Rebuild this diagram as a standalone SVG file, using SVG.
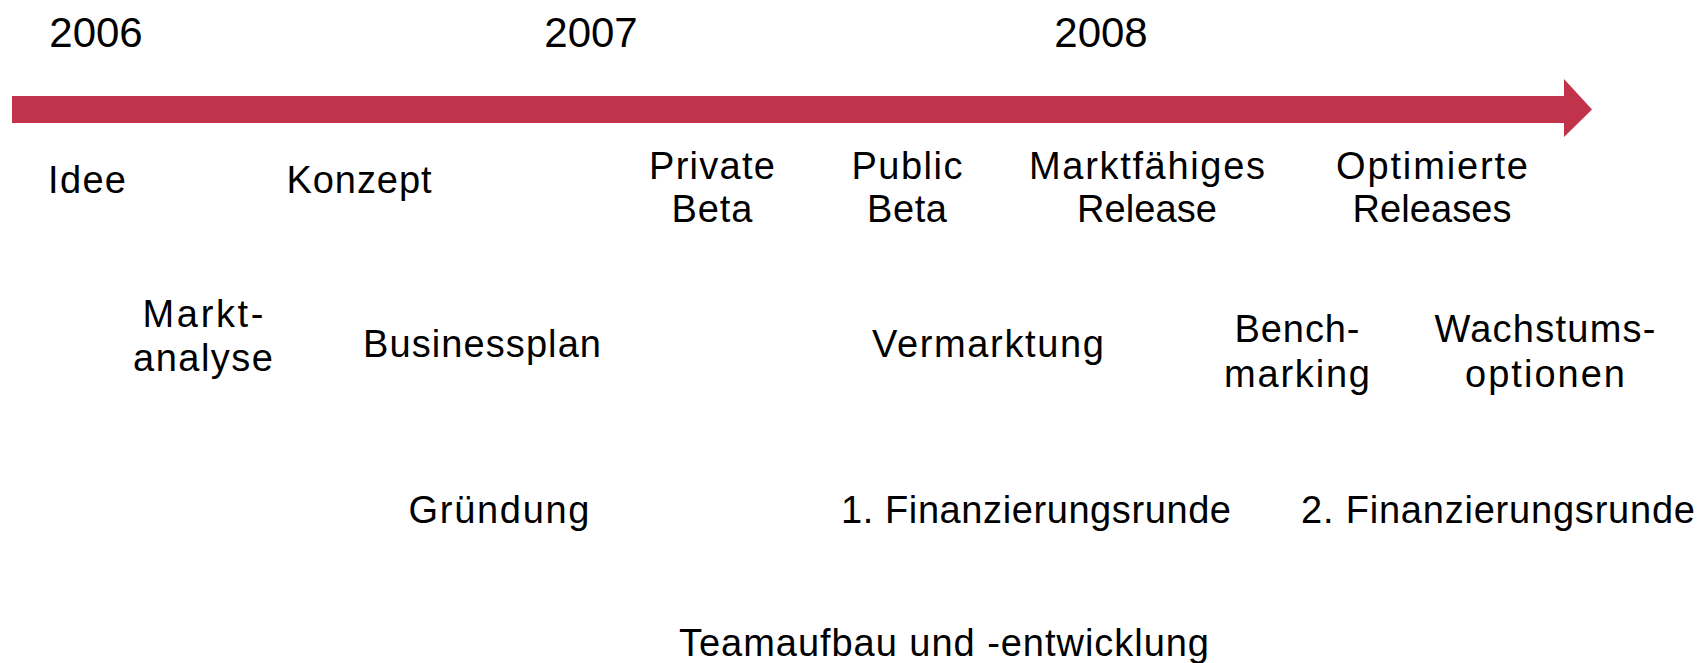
<svg xmlns="http://www.w3.org/2000/svg" width="1700" height="663" viewBox="0 0 1700 663">
<style>
text{font-family:"Liberation Sans",Arial,sans-serif;font-size:38px;fill:#000;text-anchor:middle}
.yr{font-size:42px}
</style>
<rect width="1700" height="663" fill="#fff"/>
<g id="connectors">
<path id="timeline" d="M12 96 H1564 V79 L1592 109.5 L1564 137 V123 H12 Z" fill="#C1334A"/>
</g>
<g id="y2006"><text class="yr" x="96" y="47">2006</text></g>
<g id="y2007"><text class="yr" x="591" y="47">2007</text></g>
<g id="y2008"><text class="yr" x="1101" y="47">2008</text></g>
<g id="idee"><text x="87" y="193" textLength="78" lengthAdjust="spacing">Idee</text></g>
<g id="konzept"><text x="359" y="193" textLength="145" lengthAdjust="spacing">Konzept</text></g>
<g id="privatebeta"><text x="712" y="179" textLength="126" lengthAdjust="spacing">Private</text><text x="712" y="222" textLength="81" lengthAdjust="spacing">Beta</text></g>
<g id="publicbeta"><text x="907" y="179" textLength="111" lengthAdjust="spacing">Public</text><text x="907" y="222" textLength="80" lengthAdjust="spacing">Beta</text></g>
<g id="release"><text x="1147" y="179" textLength="236" lengthAdjust="spacing">Marktfähiges</text><text x="1147" y="222" textLength="140" lengthAdjust="spacing">Release</text></g>
<g id="releases"><text x="1432" y="179" textLength="192" lengthAdjust="spacing">Optimierte</text><text x="1432" y="222" textLength="159" lengthAdjust="spacing">Releases</text></g>
<g id="marktanalyse"><text x="203" y="327" textLength="121" lengthAdjust="spacing">Markt-</text><text x="203" y="371" textLength="140" lengthAdjust="spacing">analyse</text></g>
<g id="businessplan"><text x="482" y="357" textLength="238" lengthAdjust="spacing">Businessplan</text></g>
<g id="vermarktung"><text x="988" y="357" textLength="232" lengthAdjust="spacing">Vermarktung</text></g>
<g id="benchmarking"><text x="1297" y="342" textLength="125" lengthAdjust="spacing">Bench-</text><text x="1297" y="387" textLength="146" lengthAdjust="spacing">marking</text></g>
<g id="wachstum"><text x="1545" y="342" textLength="221" lengthAdjust="spacing">Wachstums-</text><text x="1545" y="387" textLength="160" lengthAdjust="spacing">optionen</text></g>
<g id="gruendung"><text x="499" y="523" textLength="181" lengthAdjust="spacing">Gründung</text></g>
<g id="fin1"><text x="1036" y="523" textLength="390" lengthAdjust="spacing">1. Finanzierungsrunde</text></g>
<g id="fin2"><text x="1498" y="523" textLength="394" lengthAdjust="spacing">2. Finanzierungsrunde</text></g>
<g id="team"><text x="944" y="656" textLength="530" lengthAdjust="spacing">Teamaufbau und -entwicklung</text></g>
</svg>
